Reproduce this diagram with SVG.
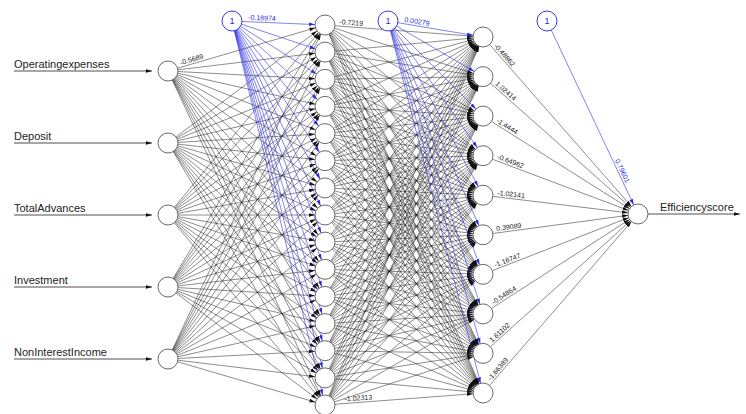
<svg xmlns="http://www.w3.org/2000/svg" width="746" height="414" viewBox="0 0 746 414">
<style>
.e{fill:none;stroke:#1a1a1a;stroke-width:.5;marker-end:url(#ah)}
.b{fill:none;stroke:#3030e8;stroke-width:.6;marker-end:url(#ab)}
.io{fill:none;stroke:#222;stroke-width:.8;marker-end:url(#at)}
.n{fill:#fff;stroke:#6a6a6a;stroke-width:1}
.bn{fill:#fff;stroke:#3a3ae0;stroke-width:1}
.lb{font-family:"Liberation Sans",Arial,sans-serif;font-size:11px;fill:#222}
.w{font-family:"Liberation Sans",Arial,sans-serif;font-size:7px;fill:#222}
.wb{font-family:"Liberation Sans",Arial,sans-serif;font-size:7px;fill:#2a2ae0}
.one{font-family:"Liberation Sans",Arial,sans-serif;font-size:9px;fill:#2a2ae0;text-anchor:middle}
</style>
<defs>
<marker id="ah" markerUnits="userSpaceOnUse" viewBox="0 -3 20 6" refX="16" refY="0" markerWidth="20" markerHeight="6" orient="auto"><path d="M0,-1.8L6,0L0,1.8z" fill="#111"/></marker>
<marker id="ab" markerUnits="userSpaceOnUse" viewBox="0 -3 20 6" refX="16" refY="0" markerWidth="20" markerHeight="6" orient="auto"><path d="M0,-1.8L6,0L0,1.8z" fill="#2a2ae0"/></marker>
<marker id="at" markerUnits="userSpaceOnUse" viewBox="0 -3 6 6" refX="6" refY="0" markerWidth="6" markerHeight="6" orient="auto"><path d="M0,-1.8L6,0L0,1.8z" fill="#111"/></marker>
</defs>
<rect width="746" height="414" fill="#fff"/>
<g id="connectors">
<g id="input-hidden1">
<path class="e" d="M168 71L325 25"/><path class="e" d="M168 71L325 52.1"/><path class="e" d="M168 71L325 79.3"/><path class="e" d="M168 71L325 106.4"/><path class="e" d="M168 71L325 133.6"/><path class="e" d="M168 71L325 160.7"/><path class="e" d="M168 71L325 187.9"/><path class="e" d="M168 71L325 215"/><path class="e" d="M168 71L325 242.1"/><path class="e" d="M168 71L325 269.3"/><path class="e" d="M168 71L325 296.4"/><path class="e" d="M168 71L325 323.6"/><path class="e" d="M168 71L325 350.7"/><path class="e" d="M168 71L325 377.9"/><path class="e" d="M168 71L325 405"/>
<path class="e" d="M168 143L325 25"/><path class="e" d="M168 143L325 52.1"/><path class="e" d="M168 143L325 79.3"/><path class="e" d="M168 143L325 106.4"/><path class="e" d="M168 143L325 133.6"/><path class="e" d="M168 143L325 160.7"/><path class="e" d="M168 143L325 187.9"/><path class="e" d="M168 143L325 215"/><path class="e" d="M168 143L325 242.1"/><path class="e" d="M168 143L325 269.3"/><path class="e" d="M168 143L325 296.4"/><path class="e" d="M168 143L325 323.6"/><path class="e" d="M168 143L325 350.7"/><path class="e" d="M168 143L325 377.9"/><path class="e" d="M168 143L325 405"/>
<path class="e" d="M168 215L325 25"/><path class="e" d="M168 215L325 52.1"/><path class="e" d="M168 215L325 79.3"/><path class="e" d="M168 215L325 106.4"/><path class="e" d="M168 215L325 133.6"/><path class="e" d="M168 215L325 160.7"/><path class="e" d="M168 215L325 187.9"/><path class="e" d="M168 215L325 215"/><path class="e" d="M168 215L325 242.1"/><path class="e" d="M168 215L325 269.3"/><path class="e" d="M168 215L325 296.4"/><path class="e" d="M168 215L325 323.6"/><path class="e" d="M168 215L325 350.7"/><path class="e" d="M168 215L325 377.9"/><path class="e" d="M168 215L325 405"/>
<path class="e" d="M168 287L325 25"/><path class="e" d="M168 287L325 52.1"/><path class="e" d="M168 287L325 79.3"/><path class="e" d="M168 287L325 106.4"/><path class="e" d="M168 287L325 133.6"/><path class="e" d="M168 287L325 160.7"/><path class="e" d="M168 287L325 187.9"/><path class="e" d="M168 287L325 215"/><path class="e" d="M168 287L325 242.1"/><path class="e" d="M168 287L325 269.3"/><path class="e" d="M168 287L325 296.4"/><path class="e" d="M168 287L325 323.6"/><path class="e" d="M168 287L325 350.7"/><path class="e" d="M168 287L325 377.9"/><path class="e" d="M168 287L325 405"/>
<path class="e" d="M168 359L325 25"/><path class="e" d="M168 359L325 52.1"/><path class="e" d="M168 359L325 79.3"/><path class="e" d="M168 359L325 106.4"/><path class="e" d="M168 359L325 133.6"/><path class="e" d="M168 359L325 160.7"/><path class="e" d="M168 359L325 187.9"/><path class="e" d="M168 359L325 215"/><path class="e" d="M168 359L325 242.1"/><path class="e" d="M168 359L325 269.3"/><path class="e" d="M168 359L325 296.4"/><path class="e" d="M168 359L325 323.6"/><path class="e" d="M168 359L325 350.7"/><path class="e" d="M168 359L325 377.9"/><path class="e" d="M168 359L325 405"/>
</g>
<g id="bias1-hidden1">
<path class="b" d="M232 21L325 25"/><path class="b" d="M232 21L325 52.1"/><path class="b" d="M232 21L325 79.3"/><path class="b" d="M232 21L325 106.4"/><path class="b" d="M232 21L325 133.6"/><path class="b" d="M232 21L325 160.7"/><path class="b" d="M232 21L325 187.9"/><path class="b" d="M232 21L325 215"/><path class="b" d="M232 21L325 242.1"/><path class="b" d="M232 21L325 269.3"/><path class="b" d="M232 21L325 296.4"/><path class="b" d="M232 21L325 323.6"/><path class="b" d="M232 21L325 350.7"/><path class="b" d="M232 21L325 377.9"/><path class="b" d="M232 21L325 405"/>
</g>
<g id="hidden1-hidden2">
<path class="e" d="M325 25L483 37"/><path class="e" d="M325 25L483 76.6"/><path class="e" d="M325 25L483 116.1"/><path class="e" d="M325 25L483 155.7"/><path class="e" d="M325 25L483 195.2"/><path class="e" d="M325 25L483 234.8"/><path class="e" d="M325 25L483 274.3"/><path class="e" d="M325 25L483 313.9"/><path class="e" d="M325 25L483 353.4"/><path class="e" d="M325 25L483 393"/>
<path class="e" d="M325 52.1L483 37"/><path class="e" d="M325 52.1L483 76.6"/><path class="e" d="M325 52.1L483 116.1"/><path class="e" d="M325 52.1L483 155.7"/><path class="e" d="M325 52.1L483 195.2"/><path class="e" d="M325 52.1L483 234.8"/><path class="e" d="M325 52.1L483 274.3"/><path class="e" d="M325 52.1L483 313.9"/><path class="e" d="M325 52.1L483 353.4"/><path class="e" d="M325 52.1L483 393"/>
<path class="e" d="M325 79.3L483 37"/><path class="e" d="M325 79.3L483 76.6"/><path class="e" d="M325 79.3L483 116.1"/><path class="e" d="M325 79.3L483 155.7"/><path class="e" d="M325 79.3L483 195.2"/><path class="e" d="M325 79.3L483 234.8"/><path class="e" d="M325 79.3L483 274.3"/><path class="e" d="M325 79.3L483 313.9"/><path class="e" d="M325 79.3L483 353.4"/><path class="e" d="M325 79.3L483 393"/>
<path class="e" d="M325 106.4L483 37"/><path class="e" d="M325 106.4L483 76.6"/><path class="e" d="M325 106.4L483 116.1"/><path class="e" d="M325 106.4L483 155.7"/><path class="e" d="M325 106.4L483 195.2"/><path class="e" d="M325 106.4L483 234.8"/><path class="e" d="M325 106.4L483 274.3"/><path class="e" d="M325 106.4L483 313.9"/><path class="e" d="M325 106.4L483 353.4"/><path class="e" d="M325 106.4L483 393"/>
<path class="e" d="M325 133.6L483 37"/><path class="e" d="M325 133.6L483 76.6"/><path class="e" d="M325 133.6L483 116.1"/><path class="e" d="M325 133.6L483 155.7"/><path class="e" d="M325 133.6L483 195.2"/><path class="e" d="M325 133.6L483 234.8"/><path class="e" d="M325 133.6L483 274.3"/><path class="e" d="M325 133.6L483 313.9"/><path class="e" d="M325 133.6L483 353.4"/><path class="e" d="M325 133.6L483 393"/>
<path class="e" d="M325 160.7L483 37"/><path class="e" d="M325 160.7L483 76.6"/><path class="e" d="M325 160.7L483 116.1"/><path class="e" d="M325 160.7L483 155.7"/><path class="e" d="M325 160.7L483 195.2"/><path class="e" d="M325 160.7L483 234.8"/><path class="e" d="M325 160.7L483 274.3"/><path class="e" d="M325 160.7L483 313.9"/><path class="e" d="M325 160.7L483 353.4"/><path class="e" d="M325 160.7L483 393"/>
<path class="e" d="M325 187.9L483 37"/><path class="e" d="M325 187.9L483 76.6"/><path class="e" d="M325 187.9L483 116.1"/><path class="e" d="M325 187.9L483 155.7"/><path class="e" d="M325 187.9L483 195.2"/><path class="e" d="M325 187.9L483 234.8"/><path class="e" d="M325 187.9L483 274.3"/><path class="e" d="M325 187.9L483 313.9"/><path class="e" d="M325 187.9L483 353.4"/><path class="e" d="M325 187.9L483 393"/>
<path class="e" d="M325 215L483 37"/><path class="e" d="M325 215L483 76.6"/><path class="e" d="M325 215L483 116.1"/><path class="e" d="M325 215L483 155.7"/><path class="e" d="M325 215L483 195.2"/><path class="e" d="M325 215L483 234.8"/><path class="e" d="M325 215L483 274.3"/><path class="e" d="M325 215L483 313.9"/><path class="e" d="M325 215L483 353.4"/><path class="e" d="M325 215L483 393"/>
<path class="e" d="M325 242.1L483 37"/><path class="e" d="M325 242.1L483 76.6"/><path class="e" d="M325 242.1L483 116.1"/><path class="e" d="M325 242.1L483 155.7"/><path class="e" d="M325 242.1L483 195.2"/><path class="e" d="M325 242.1L483 234.8"/><path class="e" d="M325 242.1L483 274.3"/><path class="e" d="M325 242.1L483 313.9"/><path class="e" d="M325 242.1L483 353.4"/><path class="e" d="M325 242.1L483 393"/>
<path class="e" d="M325 269.3L483 37"/><path class="e" d="M325 269.3L483 76.6"/><path class="e" d="M325 269.3L483 116.1"/><path class="e" d="M325 269.3L483 155.7"/><path class="e" d="M325 269.3L483 195.2"/><path class="e" d="M325 269.3L483 234.8"/><path class="e" d="M325 269.3L483 274.3"/><path class="e" d="M325 269.3L483 313.9"/><path class="e" d="M325 269.3L483 353.4"/><path class="e" d="M325 269.3L483 393"/>
<path class="e" d="M325 296.4L483 37"/><path class="e" d="M325 296.4L483 76.6"/><path class="e" d="M325 296.4L483 116.1"/><path class="e" d="M325 296.4L483 155.7"/><path class="e" d="M325 296.4L483 195.2"/><path class="e" d="M325 296.4L483 234.8"/><path class="e" d="M325 296.4L483 274.3"/><path class="e" d="M325 296.4L483 313.9"/><path class="e" d="M325 296.4L483 353.4"/><path class="e" d="M325 296.4L483 393"/>
<path class="e" d="M325 323.6L483 37"/><path class="e" d="M325 323.6L483 76.6"/><path class="e" d="M325 323.6L483 116.1"/><path class="e" d="M325 323.6L483 155.7"/><path class="e" d="M325 323.6L483 195.2"/><path class="e" d="M325 323.6L483 234.8"/><path class="e" d="M325 323.6L483 274.3"/><path class="e" d="M325 323.6L483 313.9"/><path class="e" d="M325 323.6L483 353.4"/><path class="e" d="M325 323.6L483 393"/>
<path class="e" d="M325 350.7L483 37"/><path class="e" d="M325 350.7L483 76.6"/><path class="e" d="M325 350.7L483 116.1"/><path class="e" d="M325 350.7L483 155.7"/><path class="e" d="M325 350.7L483 195.2"/><path class="e" d="M325 350.7L483 234.8"/><path class="e" d="M325 350.7L483 274.3"/><path class="e" d="M325 350.7L483 313.9"/><path class="e" d="M325 350.7L483 353.4"/><path class="e" d="M325 350.7L483 393"/>
<path class="e" d="M325 377.9L483 37"/><path class="e" d="M325 377.9L483 76.6"/><path class="e" d="M325 377.9L483 116.1"/><path class="e" d="M325 377.9L483 155.7"/><path class="e" d="M325 377.9L483 195.2"/><path class="e" d="M325 377.9L483 234.8"/><path class="e" d="M325 377.9L483 274.3"/><path class="e" d="M325 377.9L483 313.9"/><path class="e" d="M325 377.9L483 353.4"/><path class="e" d="M325 377.9L483 393"/>
<path class="e" d="M325 405L483 37"/><path class="e" d="M325 405L483 76.6"/><path class="e" d="M325 405L483 116.1"/><path class="e" d="M325 405L483 155.7"/><path class="e" d="M325 405L483 195.2"/><path class="e" d="M325 405L483 234.8"/><path class="e" d="M325 405L483 274.3"/><path class="e" d="M325 405L483 313.9"/><path class="e" d="M325 405L483 353.4"/><path class="e" d="M325 405L483 393"/>
</g>
<g id="bias2-hidden2">
<path class="b" d="M388 21L483 37"/><path class="b" d="M388 21L483 76.6"/><path class="b" d="M388 21L483 116.1"/><path class="b" d="M388 21L483 155.7"/><path class="b" d="M388 21L483 195.2"/><path class="b" d="M388 21L483 234.8"/><path class="b" d="M388 21L483 274.3"/><path class="b" d="M388 21L483 313.9"/><path class="b" d="M388 21L483 353.4"/><path class="b" d="M388 21L483 393"/>
</g>
<g id="hidden2-output">
<path class="e" d="M483 37L638 214"/><path class="e" d="M483 76.6L638 214"/><path class="e" d="M483 116.1L638 214"/><path class="e" d="M483 155.7L638 214"/><path class="e" d="M483 195.2L638 214"/><path class="e" d="M483 234.8L638 214"/><path class="e" d="M483 274.3L638 214"/><path class="e" d="M483 313.9L638 214"/><path class="e" d="M483 353.4L638 214"/><path class="e" d="M483 393L638 214"/>
<path class="b" d="M547 21L638 214"/>
</g>
<g id="io-arrows">
<path class="io" d="M14 71L152 71"/><path class="io" d="M14 143L152 143"/><path class="io" d="M14 215L152 215"/><path class="io" d="M14 287L152 287"/><path class="io" d="M14 359L152 359"/>
<path class="io" d="M648 214L740 214"/>
</g>
<g id="weights">
<text class="w" transform="translate(168,71) rotate(-16.3)" x="14" y="-2">-0.5689</text>
<text class="wb" transform="translate(232,21) rotate(2.5)" x="16" y="-2">-0.18974</text>
<text class="w" transform="translate(325,25) rotate(4.3)" x="14" y="-2">-0.7219</text>
<text class="wb" transform="translate(388,21) rotate(9.6)" x="16" y="-2">0.00279</text>
<text class="w" transform="translate(325,405) rotate(-4.3)" x="20" y="-2">-1.02313</text>
<text class="w" transform="translate(483,37) rotate(48.8)" x="14" y="-2">-0.48862</text>
<text class="w" transform="translate(483,76.6) rotate(41.6)" x="14" y="-2">1.02414</text>
<text class="w" transform="translate(483,116.1) rotate(32.3)" x="14" y="-2">-1.4444</text>
<text class="w" transform="translate(483,155.7) rotate(20.6)" x="14" y="-2">-0.64962</text>
<text class="w" transform="translate(483,195.2) rotate(6.9)" x="14" y="-2">-1.02141</text>
<text class="w" transform="translate(483,234.8) rotate(-7.6)" x="14" y="-2">0.39089</text>
<text class="w" transform="translate(483,274.3) rotate(-21.3)" x="14" y="-2">-1.16747</text>
<text class="w" transform="translate(483,313.9) rotate(-32.8)" x="14" y="-2">-0.54864</text>
<text class="w" transform="translate(483,353.4) rotate(-42)" x="14" y="-2">1.61102</text>
<text class="w" transform="translate(483,393) rotate(-49.1)" x="14" y="-2">-1.66389</text>
<text class="wb" transform="translate(547,21) rotate(64.8)" x="155" y="-2">0.79601</text>
</g>
</g>
<g id="in-operatingexpenses"><circle class="n" cx="168" cy="71" r="10"/><text class="lb" x="14" y="68">Operatingexpenses</text></g>
<g id="in-deposit"><circle class="n" cx="168" cy="143" r="10"/><text class="lb" x="14" y="140">Deposit</text></g>
<g id="in-totaladvances"><circle class="n" cx="168" cy="215" r="10"/><text class="lb" x="14" y="212">TotalAdvances</text></g>
<g id="in-investment"><circle class="n" cx="168" cy="287" r="10"/><text class="lb" x="14" y="284">Investment</text></g>
<g id="in-noninterestincome"><circle class="n" cx="168" cy="359" r="10"/><text class="lb" x="14" y="356">NonInterestIncome</text></g>
<g id="bias1"><circle class="bn" cx="232" cy="21" r="10"/><text class="one" x="232" y="24">1</text></g>
<g id="bias2"><circle class="bn" cx="388" cy="21" r="10"/><text class="one" x="388" y="24">1</text></g>
<g id="bias3"><circle class="bn" cx="547" cy="21" r="10"/><text class="one" x="547" y="24">1</text></g>
<g id="hidden1">
<circle class="n" cx="325" cy="25" r="10"/><circle class="n" cx="325" cy="52.1" r="10"/><circle class="n" cx="325" cy="79.3" r="10"/><circle class="n" cx="325" cy="106.4" r="10"/><circle class="n" cx="325" cy="133.6" r="10"/><circle class="n" cx="325" cy="160.7" r="10"/><circle class="n" cx="325" cy="187.9" r="10"/><circle class="n" cx="325" cy="215" r="10"/><circle class="n" cx="325" cy="242.1" r="10"/><circle class="n" cx="325" cy="269.3" r="10"/><circle class="n" cx="325" cy="296.4" r="10"/><circle class="n" cx="325" cy="323.6" r="10"/><circle class="n" cx="325" cy="350.7" r="10"/><circle class="n" cx="325" cy="377.9" r="10"/><circle class="n" cx="325" cy="405" r="10"/>
</g>
<g id="hidden2">
<circle class="n" cx="483" cy="37" r="10"/><circle class="n" cx="483" cy="76.6" r="10"/><circle class="n" cx="483" cy="116.1" r="10"/><circle class="n" cx="483" cy="155.7" r="10"/><circle class="n" cx="483" cy="195.2" r="10"/><circle class="n" cx="483" cy="234.8" r="10"/><circle class="n" cx="483" cy="274.3" r="10"/><circle class="n" cx="483" cy="313.9" r="10"/><circle class="n" cx="483" cy="353.4" r="10"/><circle class="n" cx="483" cy="393" r="10"/>
</g>
<g id="out-efficiencyscore"><circle class="n" cx="638" cy="214" r="10"/><text class="lb" x="660" y="211">Efficiencyscore</text></g>
</svg>
